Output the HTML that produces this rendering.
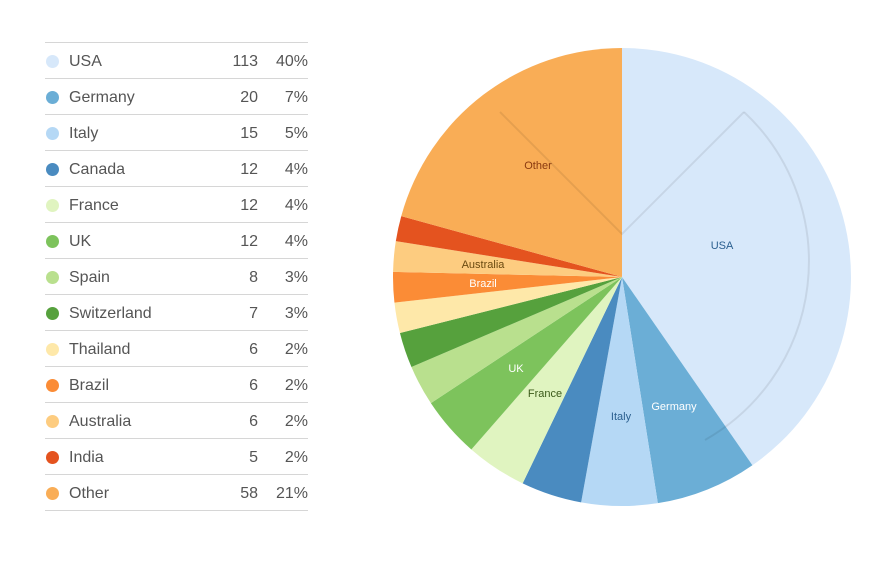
<!DOCTYPE html>
<html><head><meta charset="utf-8"><style>
body{margin:0;width:881px;height:563px;background:#fff;font-family:"Liberation Sans",sans-serif;overflow:hidden}
#leg{position:absolute;left:45px;top:42px;width:263px}
.r{height:35px;border-top:1px solid #d6d6d6;position:relative;font-size:16px;color:#555;line-height:37px}
.r:last-child{border-bottom:1px solid #d6d6d6}
.d{position:absolute;left:1px;top:12px;width:13px;height:13px;border-radius:50%}
.n{position:absolute;left:24px}.c{position:absolute;right:50px}.p{position:absolute;right:0}
svg{position:absolute;left:0;top:0}
</style></head><body>
<div id="leg"></div>
<svg id="s" width="881" height="563"></svg>
<script>
var D=[["USA",113,"#d7e8fa"],["Germany",20,"#6baed6"],["Italy",15,"#b5d8f5"],["Canada",12,"#4a8bc0"],["France",12,"#e0f4c0"],["UK",12,"#7dc35c"],["Spain",8,"#b9e08e"],["Switzerland",7,"#56a13d"],["Thailand",6,"#fee8a9"],["Brazil",6,"#fb8c36"],["Australia",6,"#fdcc80"],["India",5,"#e4531f"],["Other",58,"#f9ad56"]];
var pc=["40%","7%","5%","4%","4%","4%","3%","3%","2%","2%","2%","2%","21%"];
var h="";D.forEach(function(d,i){h+='<div class="r"><span class="d" style="background:'+d[2]+'"></span><span class="n">'+d[0]+'</span><span class="c">'+d[1]+'</span><span class="p">'+pc[i]+'</span></div>'});
document.getElementById("leg").innerHTML=h;
var cx=622,cy=277,R=229,T=280,a=0,s="";
D.forEach(function(d){var b=a+d[1]/T*2*Math.PI;
var x1=cx+R*Math.sin(a),y1=cy-R*Math.cos(a),x2=cx+R*Math.sin(b),y2=cy-R*Math.cos(b);
s+='<path d="M'+cx+','+cy+'L'+x1+','+y1+'A'+R+','+R+' 0 '+((b-a)>Math.PI?1:0)+' 1 '+x2+','+y2+'Z" fill="'+d[2]+'"/>';a=b;});
var L=[["USA",722,249,"#2a5f8f"],["Germany",674,410,"#fff"],["Italy",621,420,"#2a5f8f"],["France",545,397,"#3b5a1a"],["UK",516,372,"#fff"],["Brazil",483,287,"#fff"],["Australia",483,268,"#6a4a10"],["Other",538,169,"#8a3a10"]];
L.forEach(function(l){s+='<text x="'+l[1]+'" y="'+l[2]+'" text-anchor="middle" font-size="11" fill="'+l[3]+'" font-family="Liberation Sans,sans-serif">'+l[0]+'</text>'});
s+='<path d="M744,112 L622,234 L500,112" fill="none" stroke="#000" stroke-opacity="0.08" stroke-width="2"/>';
s+='<path d="M744,112 A205,205 0 0 1 705,440" fill="none" stroke="#000" stroke-opacity="0.08" stroke-width="2"/>';
document.getElementById("s").innerHTML=s;
</script>
</body></html>
